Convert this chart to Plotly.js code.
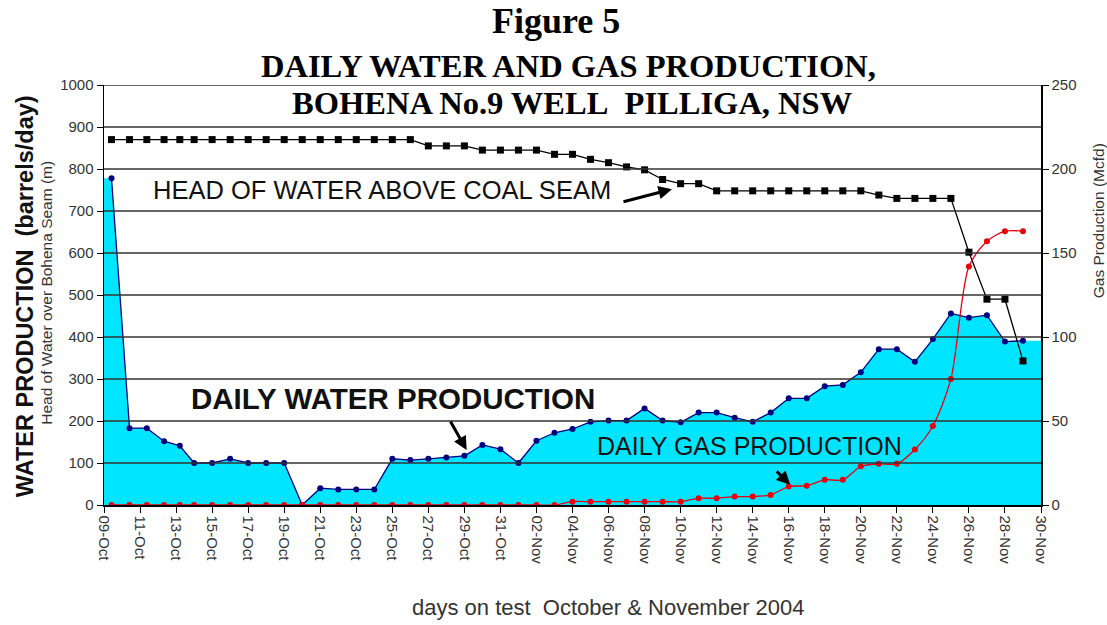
<!DOCTYPE html>
<html>
<head>
<meta charset="utf-8">
<script src="https://cdn.plot.ly/plotly-3.0.1.min.js"></script>
<style>
html,body{margin:0;padding:0;background:#fff;}
#chart{width:1107px;height:625px;}
</style>
</head>
<body>
<div id="chart"></div>
<script>
// ---- data ----
const dates = [
  '2004-10-09 10:00','2004-10-10 10:00','2004-10-11 09:00','2004-10-12 08:00','2004-10-13 05:00','2004-10-14',
  '2004-10-15','2004-10-16','2004-10-17','2004-10-18','2004-10-19','2004-10-20','2004-10-21','2004-10-22',
  '2004-10-23','2004-10-24','2004-10-25','2004-10-26','2004-10-27','2004-10-28','2004-10-29','2004-10-30','2004-10-31',
  '2004-11-01','2004-11-02','2004-11-03','2004-11-04','2004-11-05','2004-11-06','2004-11-07','2004-11-08','2004-11-09',
  '2004-11-10','2004-11-11','2004-11-12','2004-11-13','2004-11-14','2004-11-15','2004-11-16','2004-11-17','2004-11-18',
  '2004-11-19','2004-11-20','2004-11-21','2004-11-22','2004-11-23','2004-11-24','2004-11-25','2004-11-26','2004-11-27',
  '2004-11-28','2004-11-29'
];
const waterBbl = [
  778,183,183,152,141,100,
  100,110,100,100,100,0,40,37,37,37,110,107,110,113,117,143,133,
  100,153,172,181,198,201,201,230,201,197,220,220,208,198,220,254,254,283,286,316,371,371,341,395,456,446,452,389,391
];
const headM = [
  870,870,870,870,870,870,
  870,870,870,870,870,870,870,870,870,870,870,870,855,855,855,845,845,
  845,845,835,835,823,815,805,798,775,765,765,748,748,748,748,748,748,748,748,748,738,730,730,730,730,602,490,490,343
];
const gasMcfd = [
  0,0,0,0,0,0,
  0,0,0,0,0,0,0,0,0,0,0,0,0,0,0,0,0,
  0,0,0,2,2,2,2,2,2,2,4,4,5,5,6,11,11.5,15,15,23,24.5,24.5,33,47,75,142,157,163,163
];
const xRange = ['2004-10-09','2004-11-30'];
const leftTicks = [0,100,200,300,400,500,600,700,800,900,1000];
const rightTicks = [0,50,100,150,200,250];

// ---- styling ----
const SANS = 'Liberation Sans, Arial, sans-serif';
const SERIF = 'Liberation Serif, Times New Roman, serif';

// area fill spans the full plot width (first / last value carried to the edges)
const areaX = [xRange[0]].concat(dates, [xRange[1]]);
const areaY = [waterBbl[0]].concat(waterBbl, [waterBbl[waterBbl.length-1]]);

const traces = [
  {x: areaX, y: areaY, type:'scatter', mode:'lines', fill:'tozeroy',
   fillcolor:'#00e5ff', line:{width:0, color:'#00e5ff'}, hoverinfo:'skip', showlegend:false},
  {x: dates, y: waterBbl, type:'scatter', mode:'lines+markers', name:'Water',
   line:{color:'#000080', width:1.3}, marker:{color:'#000080', size:6, symbol:'circle'}, showlegend:false},
  {x: dates, y: headM, type:'scatter', mode:'lines+markers', name:'Head',
   line:{color:'#000000', width:1.3}, marker:{color:'#000000', size:7, symbol:'square'}, showlegend:false},
  {x: dates, y: gasMcfd, yaxis:'y2', type:'scatter', mode:'lines+markers', name:'Gas',
   line:{color:'#e8000b', width:1.3, shape:'spline', smoothing:0.8}, marker:{color:'#e8000b', size:6}, showlegend:false}
];

const gridShapes = leftTicks.filter(v => v > 0).map(v => ({
  type:'line', xref:'paper', yref:'y', x0:0, x1:1, y0:v, y1:v,
  line:{color:'#333', width:1.5}, layer:'above'
}));

const ann = [];
function txt(text, x, y, size, opts) {
  ann.push(Object.assign({text:text, x:x, y:y, xref:'paper', yref:'paper', showarrow:false,
    xanchor:'center', yanchor:'middle', font:{family:SANS, size:size, color:'#111'}}, opts||{}));
}
// titles
txt('<b>Figure 5</b>', 0.482, 1.152, 36, {font:{family:SERIF, size:36, color:'#000'}});
txt('<b>DAILY WATER AND GAS PRODUCTION,</b>', 0.496, 1.045, 32.5, {font:{family:SERIF, size:32.5, color:'#000'}});
txt('<b>BOHENA No.9 WELL\u00a0\u00a0PILLIGA, NSW</b>', 0.499, 0.957, 32.5, {font:{family:SERIF, size:32.5, color:'#000'}});
// axis titles
txt('<b>WATER PRODUCTION\u00a0\u00a0(barrels/day)</b>', -0.084, 0.498, 23.5, {textangle:-90, font:{family:SANS, size:23.5, color:'#111'}});
txt('Head of Water over Bohena Seam (m)', -0.061, 0.505, 15.5, {textangle:-90, font:{family:SANS, size:15.5, color:'#333'}});
txt('Gas Production (Mcfd)', 1.061, 0.676, 15.5, {textangle:-90, font:{family:SANS, size:15.5, color:'#333'}});
txt('days on test\u00a0\u00a0October &amp; November 2004', 0.538, -0.243, 22, {font:{family:SANS, size:22, color:'#333'}});
// in-plot labels
txt('HEAD OF WATER ABOVE COAL SEAM', 0.2967, 0.75, 25.5);
txt('<b>DAILY WATER PRODUCTION</b>', 0.3084, 0.2536, 29.5);
txt('DAILY GAS PRODUCTION', 0.6894, 0.1393, 25);
// arrows
function arrow(x, y, yref, ax, ay) {
  ann.push({x:x, y:y, xref:'x', yref:yref, ax:ax, ay:ay, text:'', showarrow:true,
    arrowhead:2, arrowsize:0.9, arrowwidth:3, arrowcolor:'#000', standoff:0});
}
arrow('2004-11-09 12:30', 752, 'y', -50, 13);
arrow('2004-10-29 03:00', 131, 'y', -17, -30);
arrow('2004-11-16 02:00', 12, 'y2', -15, -15);

const layout = {
  width:1107, height:625,
  margin:{l:104, r:66, t:85, b:120},
  paper_bgcolor:'#fff', plot_bgcolor:'#fff',
  showlegend:false,
  xaxis:{type:'date', range:xRange, tick0:xRange[0], dtick:2*86400000, tickformat:'%d-%b',
    tickangle:90, ticks:'outside', ticklen:6, tickcolor:'#000', showgrid:false, zeroline:false,
    showline:true, linecolor:'#000', linewidth:1.5,
    tickfont:{family:SANS, size:15, color:'#333'}},
  yaxis:{range:[0,1000], tickvals:leftTicks, ticks:'outside', ticklen:6, tickcolor:'#000',
    showgrid:false, zeroline:false, showline:true, linecolor:'#000', linewidth:1.5,
    tickfont:{family:SANS, size:15, color:'#333'}},
  yaxis2:{range:[0,250], tickvals:rightTicks, overlaying:'y', side:'right', ticks:'outside', ticklen:6,
    tickcolor:'#000', showgrid:false, zeroline:false, showline:true, linecolor:'#000', linewidth:1.5,
    tickfont:{family:SANS, size:15, color:'#333'}},
  shapes:gridShapes,
  annotations:ann
};

Plotly.newPlot('chart', traces, layout, {staticPlot:true, displayModeBar:false});
</script>
</body>
</html>
